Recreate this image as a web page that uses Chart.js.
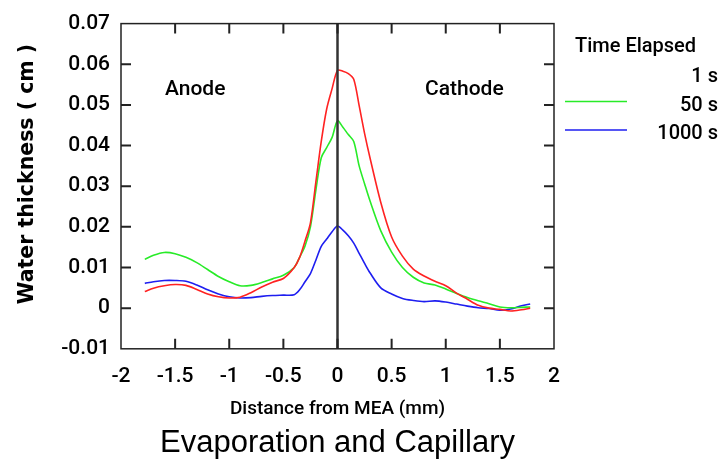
<!DOCTYPE html>
<html>
<head>
<meta charset="utf-8">
<script src="https://cdn.jsdelivr.net/npm/chart.js@4.4.1/dist/chart.umd.min.js"></script>
<style>
html,body{margin:0;padding:0;background:#fff;}
#wrap{width:719px;height:474px;}
canvas{display:block;}
</style>
</head>
<body>
<div id="wrap"><canvas id="c" width="719" height="474" style="width:719px;height:474px"></canvas></div>
<script>
// ---- data ----
const distance = [-1.78,-1.7,-1.6,-1.5,-1.4,-1.3,-1.2,-1.1,-1.0,-0.9,-0.8,-0.7,-0.6,-0.5,-0.4,-0.35,-0.3,-0.25,-0.2,-0.15,-0.1,-0.05,0,0.05,0.1,0.15,0.2,0.25,0.3,0.4,0.5,0.6,0.7,0.8,0.9,1.0,1.1,1.2,1.3,1.4,1.5,1.6,1.7,1.78];
const water1s = [0.0041,0.0049,0.0055,0.0058,0.0056,0.0046,0.0035,0.0028,0.0025,0.0027,0.0038,0.0052,0.0064,0.0073,0.0100,0.0125,0.0165,0.0210,0.0310,0.0410,0.0490,0.0540,0.0585,0.0583,0.0577,0.0563,0.0498,0.0430,0.0370,0.0260,0.0175,0.0128,0.0096,0.0079,0.0066,0.0055,0.0037,0.0022,0.0007,0.0000,-0.0003,-0.0007,-0.0004,0.0000];
const water50s = [0.0120,0.0130,0.0137,0.0134,0.0125,0.0112,0.0095,0.0078,0.0065,0.0055,0.0056,0.0063,0.0072,0.0081,0.0100,0.0125,0.0153,0.0200,0.0290,0.0370,0.0395,0.0420,0.0461,0.0445,0.0427,0.0410,0.0350,0.0306,0.0264,0.0190,0.0138,0.0100,0.0076,0.0062,0.0057,0.0047,0.0036,0.0026,0.0018,0.0011,0.0003,0.0001,0.0002,0.0003];
const water1000s = [0.0061,0.0065,0.0068,0.0068,0.0066,0.0057,0.0045,0.0035,0.0028,0.0025,0.0026,0.0029,0.0031,0.0032,0.0033,0.0045,0.0065,0.0085,0.0118,0.0152,0.0170,0.0188,0.0202,0.0192,0.0178,0.0160,0.0135,0.0110,0.0087,0.0050,0.0035,0.0024,0.0019,0.0016,0.0018,0.0015,0.0010,0.0005,0.0001,-0.0001,-0.0005,-0.0002,0.0006,0.0010];
const seriesLabels = ['1 s','50 s','1000 s'];
const xTicks = [-2,-1.5,-1,-0.5,0,0.5,1,1.5,2];
const xTickLabels = ['-2','-1.5','-1','-0.5','0','0.5','1','1.5','2'];
const yTicks = [-0.01,0,0.01,0.02,0.03,0.04,0.05,0.06,0.07];
const yTickLabels = ['-0.01','0','0.01','0.02','0.03','0.04','0.05','0.06','0.07'];
const regionLabels = ['Anode','Cathode'];
const legendTitle = 'Time Elapsed';
const xTitle = 'Distance from MEA (mm)';
const yTitle = 'Water thickness ( cm )';
const chartTitle = 'Evaporation and Capillary';

// ---- styles ----
const colors = ['rgb(255,34,34)','rgb(40,235,40)','rgb(30,30,240)'];
const legendLineShown = [false,true,true];

const toPts = arr => distance.map((d,i)=>({x:d,y:arr[i]}));

const decor = {
  id:'decor',
  afterDatasetsDraw(chart){
    const {ctx, chartArea:a, scales:{x,y}} = chart;
    ctx.save();
    // vertical line at x = 0
    const x0 = x.getPixelForValue(0);
    ctx.strokeStyle = '#333'; ctx.lineWidth = 2.5;
    ctx.beginPath(); ctx.moveTo(x0,a.top); ctx.lineTo(x0,a.bottom); ctx.stroke();
    // frame
    ctx.strokeStyle = '#222'; ctx.lineWidth = 1.5;
    ctx.strokeRect(a.left,a.top,a.right-a.left,a.bottom-a.top);
    // inward ticks
    ctx.lineWidth = 2; const tl = 10;
    ctx.beginPath();
    x.ticks.forEach(t=>{
      const px = x.getPixelForValue(t.value);
      if (px <= a.left+1 || px >= a.right-1) return;
      ctx.moveTo(px,a.bottom); ctx.lineTo(px,a.bottom-tl);
      ctx.moveTo(px,a.top); ctx.lineTo(px,a.top+tl);
    });
    y.ticks.forEach(t=>{
      const py = y.getPixelForValue(t.value);
      if (py <= a.top+1 || py >= a.bottom-1) return;
      ctx.moveTo(a.left,py); ctx.lineTo(a.left+tl,py);
      ctx.moveTo(a.right,py); ctx.lineTo(a.right-tl,py);
    });
    ctx.stroke();
    // y axis title
    ctx.save();
    ctx.translate(28, 174);
    ctx.rotate(-Math.PI/2);
    ctx.fillStyle = '#000';
    ctx.font = "bold 20.5px 'DejaVu Sans'";
    ctx.textAlign = 'center'; ctx.textBaseline = 'middle';
    ctx.fillText(yTitle, 0, 0);
    ctx.restore();
    // region labels
    ctx.fillStyle = '#000';
    ctx.font = '500 21px Roboto';
    ctx.textAlign = 'left'; ctx.textBaseline = 'alphabetic';
    ctx.fillText(regionLabels[0], 165, 95);
    ctx.fillText(regionLabels[1], 425, 95);
    // legend
    ctx.font = '500 20px Roboto';
    ctx.fillText(legendTitle, 575, 52);
    ctx.textAlign = 'right';
    chart.data.datasets.forEach((ds,i)=>{
      const by = 82 + i*28.5;
      ctx.fillStyle = '#000';
      ctx.fillText(ds.label, 718, by);
      if (legendLineShown[i]) {
        ctx.strokeStyle = ds.borderColor; ctx.lineWidth = 1.6;
        ctx.beginPath(); ctx.moveTo(565, by-9); ctx.lineTo(627, by-9); ctx.stroke();
      }
    });
    ctx.restore();
  }
};

new Chart(document.getElementById('c'), {
  type:'line',
  data:{
    datasets:[
      {label:seriesLabels[0], data:toPts(water1s), borderColor:colors[0]},
      {label:seriesLabels[1], data:toPts(water50s), borderColor:colors[1]},
      {label:seriesLabels[2], data:toPts(water1000s), borderColor:colors[2]}
    ]
  },
  options:{
    responsive:false, animation:false, devicePixelRatio:1,
    elements:{line:{borderWidth:1.6, tension:0.3, fill:false}, point:{radius:0}},
    layout:{padding:{left:0, right:165, top:21, bottom:0}},
    plugins:{
      legend:{display:false}, tooltip:{enabled:false},
      title:{display:true, text:chartTitle, position:'bottom', fullSize:false,
        color:'#000', font:{family:"'Liberation Sans', Arial, sans-serif", size:31, weight:'normal'},
        padding:{top:4, bottom:12}}
    },
    scales:{
      x:{type:'linear', min:-2, max:2,
        afterBuildTicks:s=>{s.ticks = xTicks.map(v=>({value:v}));},
        afterFit:s=>{s.height = 72;},
        grid:{display:false, drawTicks:false}, border:{display:false},
        ticks:{autoSkip:false, maxRotation:0, padding:15, color:'#000',
          font:{family:'Roboto', size:21, weight:'500'}, callback:(v,i)=>xTickLabels[i]},
        title:{display:true, text:xTitle, color:'#000', font:{family:'Roboto', size:19, weight:'500'}, padding:{top:0,bottom:0}}
      },
      y:{type:'linear', min:-0.01, max:0.07,
        afterBuildTicks:s=>{s.ticks = yTicks.map(v=>({value:v}));},
        afterFit:s=>{s.width = 121;},
        grid:{display:false, drawTicks:false}, border:{display:false},
        ticks:{autoSkip:false, padding:11, color:'#000',
          font:{family:'Roboto', size:21, weight:'500'}, callback:(v,i)=>yTickLabels[i]},
        title:{display:false, text:yTitle}
      }
    }
  },
  plugins:[decor]
});
</script>
</body>
</html>
